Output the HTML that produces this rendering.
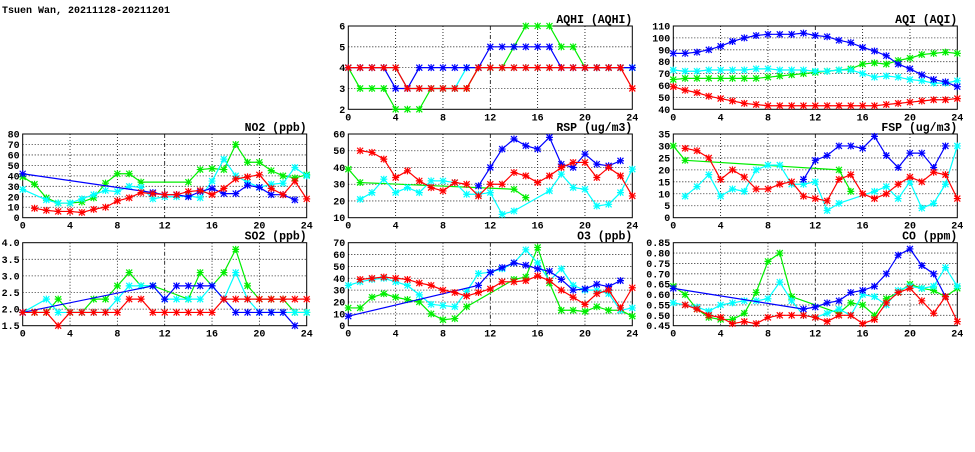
<!DOCTYPE html>
<html><head><meta charset="utf-8"><style>
body{margin:0;background:#fff;width:975px;height:447px;overflow:hidden}
svg text{font-family:"Liberation Mono","DejaVu Sans Mono",monospace;font-weight:bold;font-size:10px;fill:#000}
svg text.pt{font-size:11.5px}
</style></head><body>
<svg id="c" width="975" height="447">
<text x="2" y="13">Tsuen Wan, 20211128-20211201</text>
</svg>
<script>
const hours=[0,1,2,3,4,5,6,7,8,9,10,11,12,13,14,15,16,17,18,19,20,21,22,23,24];
const xTicks=[0,4,8,12,16,20,24];
const N=null;
// AQHI
const aqhiGreen=[4,3,3,3,2,2,2,3,3,3,3,4,4,4,5,6,6,6,5,5,4,4,4,4,4];
const aqhiCyan=[4,4,4,4,4,3,3,3,3,3,4,4,4,4,4,4,4,4,4,4,4,4,4,4,4];
const aqhiBlue=[4,4,4,4,3,3,4,4,4,4,4,4,5,5,5,5,5,5,4,4,4,4,4,4,4];
const aqhiRed=[4,4,4,4,4,3,3,3,3,3,3,4,4,4,4,4,4,4,4,4,4,4,4,4,3];
const aqhiTicks=[2,3,4,5,6];
// AQI
const aqiGreen=[65,66,66,66,66,66,66,66,67,68,69,70,71,72,73,74,78,79,78,81,83,86,87,88,87];
const aqiCyan=[73,72,72,73,73,73,73,74,74,73,73,73,72,72,73,73,70,67,68,67,65,64,62,62,64];
const aqiBlue=[87,87,88,90,93,97,100,102,103,103,103,104,102,101,98,96,92,89,85,78,74,69,65,63,59];
const aqiRed=[59,56,54,51,49,47,45,44,43,43,43,43,43,43,43,43,43,43,44,45,46,47,48,48,49];
const aqiTicks=[40,50,60,70,80,90,100,110];
// NO2
const no2Green=[39,32,19,14,14,15,19,33,42,42,34,N,N,N,34,46,47,46,70,53,53,45,40,38,41];
const no2Cyan=[27,N,17,14,14,18,22,26,25,30,29,18,20,20,21,19,35,56,40,34,29,32,33,48,40];
const no2Blue=[42,N,N,N,N,N,N,N,N,N,N,24,22,22,20,25,28,23,23,31,29,22,22,17,N];
const no2Red=[N,9,7,6,6,5,8,10,16,19,24,23,22,22,25,26,22,28,37,39,41,28,22,35,18];
const no2Ticks=[0,10,20,30,40,50,60,70,80];
// RSP
const rspGreen=[39,31,N,N,N,N,N,N,N,N,N,N,N,N,27,22,N,N,N,N,N,N,N,N,N];
const rspCyan=[N,21,25,33,25,28,25,32,32,31,24,24,25,12,14,N,N,26,36,28,27,17,18,25,39];
const rspBlue=[N,N,N,N,N,N,N,N,N,N,N,29,40,51,57,53,51,58,42,40,48,42,41,44,N];
const rspRed=[N,50,49,45,34,38,32,28,26,31,30,23,30,30,37,35,31,35,40,43,43,34,40,35,23];
const rspTicks=[10,20,30,40,50,60];
// FSP
const fspGreen=[30,24,N,N,N,N,N,N,N,N,N,N,N,N,20,11,N,N,N,N,N,N,N,N,N];
const fspCyan=[N,9,13,18,9,12,11,20,22,22,14,14,15,3,6,N,N,11,13,8,15,4,6,14,30];
const fspBlue=[N,N,N,N,N,N,N,N,N,N,N,16,24,26,30,30,29,34,26,21,27,27,21,30,N];
const fspRed=[N,29,28,25,16,20,17,12,12,14,15,9,8,7,16,18,10,8,10,14,17,15,19,18,8];
const fspTicks=[0,5,10,15,20,25,30,35];
// SO2
const so2Green=[1.9,1.9,1.9,2.3,1.9,1.9,2.3,2.3,2.7,3.1,2.7,2.7,N,N,2.3,3.1,2.7,3.1,3.8,2.7,2.3,2.3,2.3,1.9,1.9];
const so2Cyan=[1.9,N,2.3,1.9,1.9,1.9,1.9,1.9,2.3,2.7,2.7,2.7,2.3,2.3,2.3,2.3,2.7,2.3,3.1,2.3,1.9,1.9,1.9,1.9,1.9];
const so2Blue=[1.9,N,N,N,N,N,N,N,N,N,N,2.7,2.3,2.7,2.7,2.7,2.7,2.3,1.9,1.9,1.9,1.9,1.9,1.5,N];
const so2Red=[1.9,1.9,1.9,1.5,1.9,1.9,1.9,1.9,1.9,2.3,2.3,1.9,1.9,1.9,1.9,1.9,1.9,2.3,2.3,2.3,2.3,2.3,2.3,2.3,2.3];
const so2Ticks=[1.5,2.0,2.5,3.0,3.5,4.0];
// O3
const o3Green=[15,15,24,27,24,22,20,10,5,6,16,N,N,N,39,41,66,36,13,13,12,16,13,13,8];
const o3Cyan=[34,37,39,40,37,34,26,18,17,16,29,44,45,48,53,64,53,38,48,34,30,30,27,13,15];
const o3Blue=[8,N,N,N,N,N,N,N,N,N,N,34,45,49,53,51,48,46,39,30,31,35,33,38,N];
const o3Red=[N,39,40,41,40,39,36,34,30,28,25,28,31,37,37,38,42,38,30,24,18,27,30,15,32];
const o3Ticks=[0,10,20,30,40,50,60,70];
// CO
const coGreen=[0.64,0.60,0.53,0.49,0.48,0.48,0.51,0.61,0.76,0.80,0.59,N,N,N,0.51,0.56,0.55,0.50,0.58,0.61,0.65,0.63,0.62,0.59,0.63];
const coCyan=[0.56,0.55,0.54,0.52,0.55,0.56,0.57,0.57,0.58,0.66,0.57,0.50,0.49,0.51,0.53,0.50,0.60,0.59,0.55,0.62,0.64,0.63,0.64,0.73,0.64];
const coBlue=[0.63,N,N,N,N,N,N,N,N,N,N,0.53,0.54,0.56,0.57,0.61,0.62,0.64,0.70,0.79,0.82,0.74,0.70,0.59,N];
const coRed=[N,0.55,0.53,0.50,0.49,0.46,0.47,0.46,0.49,0.50,0.50,0.50,0.49,0.47,0.50,0.50,0.46,0.48,0.56,0.61,0.63,0.57,0.51,0.59,0.47];
const coTicks=[0.45,0.50,0.55,0.60,0.65,0.70,0.75,0.80,0.85];

const NS='http://www.w3.org/2000/svg';
const svg=document.getElementById('c');
function mk(tag,attrs,parent){const e=document.createElementNS(NS,tag);for(const k in attrs)e.setAttribute(k,attrs[k]);(parent||svg).appendChild(e);return e;}
const cols=[22.7,348.3,673.3], W=284;
const rows=[[26,109.3],[134,217.7],[242.7,325.7]];
const COLORS={green:'#00ee00',cyan:'#00ffff',blue:'#0000ff',red:'#ff0000'};
function panel(name,title,col,row,ticks,fmt,series){
  const x0=cols[col],x1=x0+W,yT=rows[row][0],yB=rows[row][1];
  const lo=ticks[0],hi=ticks[ticks.length-1];
  const sx=v=>x0+(v-0)/24*W;
  const sy=v=>yB-(v-lo)/(hi-lo)*(yB-yT);
  const g=mk('g',{});
  
  
  ticks.forEach(t=>{
    if(t!==lo&&t!==hi){const l=mk('line',{x1:x0,x2:x1,y1:sy(t),y2:sy(t),stroke:'#000','stroke-width':0.8,'stroke-dasharray':'1,2'},g);
      }
    const tx=mk('text',{x:x0-3,y:sy(t)+3.5,'text-anchor':'end'},g);tx.textContent=fmt(t);
    
  });
  xTicks.forEach(t=>{
    if(t!==0&&t!==24){const l=mk('line',{x1:sx(t),x2:sx(t),y1:yT,y2:yB,stroke:'#000','stroke-width':0.8,'stroke-dasharray':t%12===0?'4,2,1,2':'1,2'},g);
      }
    const tx=mk('text',{x:sx(t),y:yB+11,'text-anchor':'middle'},g);tx.textContent=t;
    
  });
  const fr=mk('rect',{x:x0,y:yT,width:W,height:yB-yT,fill:'none',stroke:'#000','stroke-width':1},g);
  
  const tt=mk('text',{x:x1,y:yT-3,'text-anchor':'end','class':'pt'},g);tt.textContent=title;
  
  series.forEach(([cname,vals])=>{
    const c=COLORS[cname];
    const pts=[];hours.forEach((h,i)=>{if(vals[i]!==null)pts.push([sx(h),sy(vals[i])]);});
    const pl=mk('polyline',{points:pts.map(p=>p.join(',')).join(' '),fill:'none',stroke:c,'stroke-width':1.2},g);
    
    pts.forEach(p=>{
      const m=mk('path',{d:`M${p[0]-3},${p[1]-3}L${p[0]+3},${p[1]+3}M${p[0]-3},${p[1]+3}L${p[0]+3},${p[1]-3}M${p[0]-3.5},${p[1]}L${p[0]+3.5},${p[1]}M${p[0]},${p[1]-3.5}L${p[0]},${p[1]+3.5}`,stroke:c,'stroke-width':1.2},g);
      
    });
  });
}
const f0=v=>String(v), f1=v=>v.toFixed(1), f2=v=>v.toFixed(2);
panel('aqhi','AQHI (AQHI)',1,0,aqhiTicks,f0,[['green',aqhiGreen],['cyan',aqhiCyan],['blue',aqhiBlue],['red',aqhiRed]]);
panel('aqi','AQI (AQI)',2,0,aqiTicks,f0,[['green',aqiGreen],['cyan',aqiCyan],['blue',aqiBlue],['red',aqiRed]]);
panel('no2','NO2 (ppb)',0,1,no2Ticks,f0,[['green',no2Green],['cyan',no2Cyan],['blue',no2Blue],['red',no2Red]]);
panel('rsp','RSP (ug/m3)',1,1,rspTicks,f0,[['green',rspGreen],['cyan',rspCyan],['blue',rspBlue],['red',rspRed]]);
panel('fsp','FSP (ug/m3)',2,1,fspTicks,f0,[['green',fspGreen],['cyan',fspCyan],['blue',fspBlue],['red',fspRed]]);
panel('so2','SO2 (ppb)',0,2,so2Ticks,f1,[['green',so2Green],['cyan',so2Cyan],['blue',so2Blue],['red',so2Red]]);
panel('o3','O3 (ppb)',1,2,o3Ticks,f0,[['green',o3Green],['cyan',o3Cyan],['blue',o3Blue],['red',o3Red]]);
panel('co','CO (ppm)',2,2,coTicks,f2,[['green',coGreen],['cyan',coCyan],['blue',coBlue],['red',coRed]]);
</script>
</body></html>
